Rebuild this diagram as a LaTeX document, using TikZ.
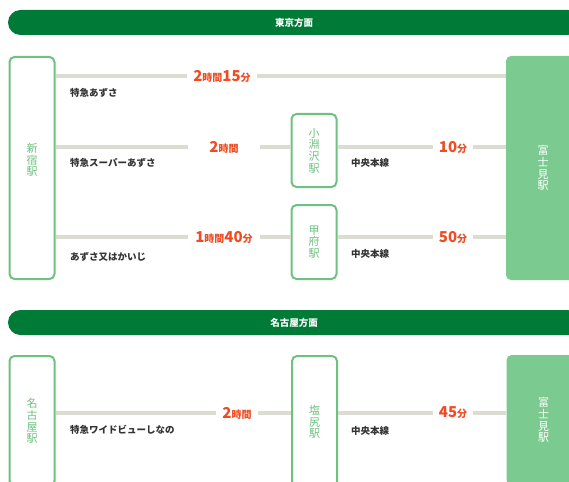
\documentclass[tikz,border=0pt]{standalone}
\usepackage{fontspec}
\setmainfont{Noto Sans CJK JP}
\usetikzlibrary{positioning}
\definecolor{bandgreen}{HTML}{007A37}
\definecolor{edgegreen}{HTML}{6EC17F}
\definecolor{goalgreen}{HTML}{7BCA8F}
\definecolor{trackgray}{HTML}{DCDCD0}
\definecolor{timered}{HTML}{F04B23}
\definecolor{labelgray}{HTML}{333333}
\newcommand{\dg}[1]{{\fontsize{15}{15}\selectfont #1}}
\tikzset{
  band/.style={fill=bandgreen, rounded corners=12.5pt, minimum width=572pt,
    minimum height=25pt, text=white, font=\bfseries\fontsize{9.5}{10}\selectfont},
  station/.style={draw=edgegreen, line width=2pt, rounded corners=5pt, fill=white,
    text=edgegreen, align=center, minimum width=45pt, font=\fontsize{11}{11.7}\selectfont},
  goal/.style={fill=goalgreen, rounded corners=5pt, text=white, align=center,
    minimum width=74pt, font=\fontsize{11}{11.7}\selectfont},
  track/.style={draw=trackgray, line width=3.5pt},
  timelbl/.style={fill=white, text=timered, inner sep=0pt, minimum height=18pt,
    font=\bfseries\fontsize{10}{10}\selectfont},
  trainlbl/.style={anchor=west, inner sep=0pt, text=labelgray,
    font=\bfseries\fontsize{9.5}{10}\selectfont}
}
\begin{document}
\begin{tikzpicture}[x=1pt, y=-1pt]
  \useasboundingbox (0,0) rectangle (569,481);
  \clip (0,0) rectangle (569,481);

  % Tokyo
  \node[band] (tokyo) at (294,22.5) {東京方面};
  \node[station, minimum height=222pt,
    label={[align=center, text=edgegreen, font=\fontsize{11}{11.5}\selectfont, yshift=8pt]center:新\\宿\\駅}]
    (shinjuku) at (32,168) {};
  \node[goal, minimum height=224pt] (fujimi1) at (543,168) {富\\士\\見\\駅};
  \node[station, minimum height=73pt] (kobuchi) at (314,150.5) {小\\淵\\沢\\駅};
  \node[station, minimum height=74pt] (kofu) at (314,242) {甲\\府\\駅};

  \node[timelbl, minimum width=70pt] (t1) at (222,76) {\dg{2}時間\dg{15}分};
  \node[timelbl, minimum width=72pt] (t2) at (224,147) {\dg{2}時間};
  \node[timelbl, minimum width=72pt] (t3) at (224,237) {\dg{1}時間\dg{40}分};
  \node[timelbl, minimum width=39pt] (t4) at (453,147) {\dg{10}分};
  \node[timelbl, minimum width=39pt] (t5) at (453,237) {\dg{50}分};

  \draw[track] (shinjuku.east |- t1) -- (t1.west);
  \draw[track] (t1.east) -- (fujimi1.west |- t1);
  \draw[track] (shinjuku.east |- t2) -- (t2.west);
  \draw[track] (t2.east) -- (kobuchi.west |- t2);
  \draw[track] (kobuchi.east |- t4) -- (t4.west);
  \draw[track] (t4.east) -- (fujimi1.west |- t4);
  \draw[track] (shinjuku.east |- t3) -- (t3.west);
  \draw[track] (t3.east) -- (kofu.west |- t3);
  \draw[track] (kofu.east |- t5) -- (t5.west);
  \draw[track] (t5.east) -- (fujimi1.west |- t5);

  \node[trainlbl] (azusa) at (70,93) {特急あずさ};
  \node[trainlbl] (superazusa) at (70,163) {特急スーパーあずさ};
  \node[trainlbl] (kaiji) at (70,257) {あずさ又はかいじ};
  \node[trainlbl] (chuo1) at (351,163) {中央本線};
  \node[trainlbl] (chuo2) at (351,254) {中央本線};

  % Nagoya
  \node[band] (nagoyaband) at (294,322.5) {名古屋方面};
  \node[station, minimum height=130pt] (nagoya) at (32,421) {名\\古\\屋\\駅};
  \node[station, minimum height=132pt] (shiojiri) at (314.5,422) {塩\\尻\\駅};
  \node[goal, minimum height=130pt] (fujimi2) at (543.5,420) {富\\士\\見\\駅};

  \node[timelbl, minimum width=41pt] (t6) at (237,413) {\dg{2}時間};
  \node[timelbl, minimum width=39pt] (t7) at (453,413) {\dg{45}分};

  \draw[track] (nagoya.east |- t6) -- (t6.west);
  \draw[track] (t6.east) -- (shiojiri.west |- t6);
  \draw[track] (shiojiri.east |- t7) -- (t7.west);
  \draw[track] (t7.east) -- (fujimi2.west |- t7);

  \node[trainlbl] (shinano) at (70,430) {特急ワイドビューしなの};
  \node[trainlbl] (chuo3) at (351,431) {中央本線};
\end{tikzpicture}
\end{document}
